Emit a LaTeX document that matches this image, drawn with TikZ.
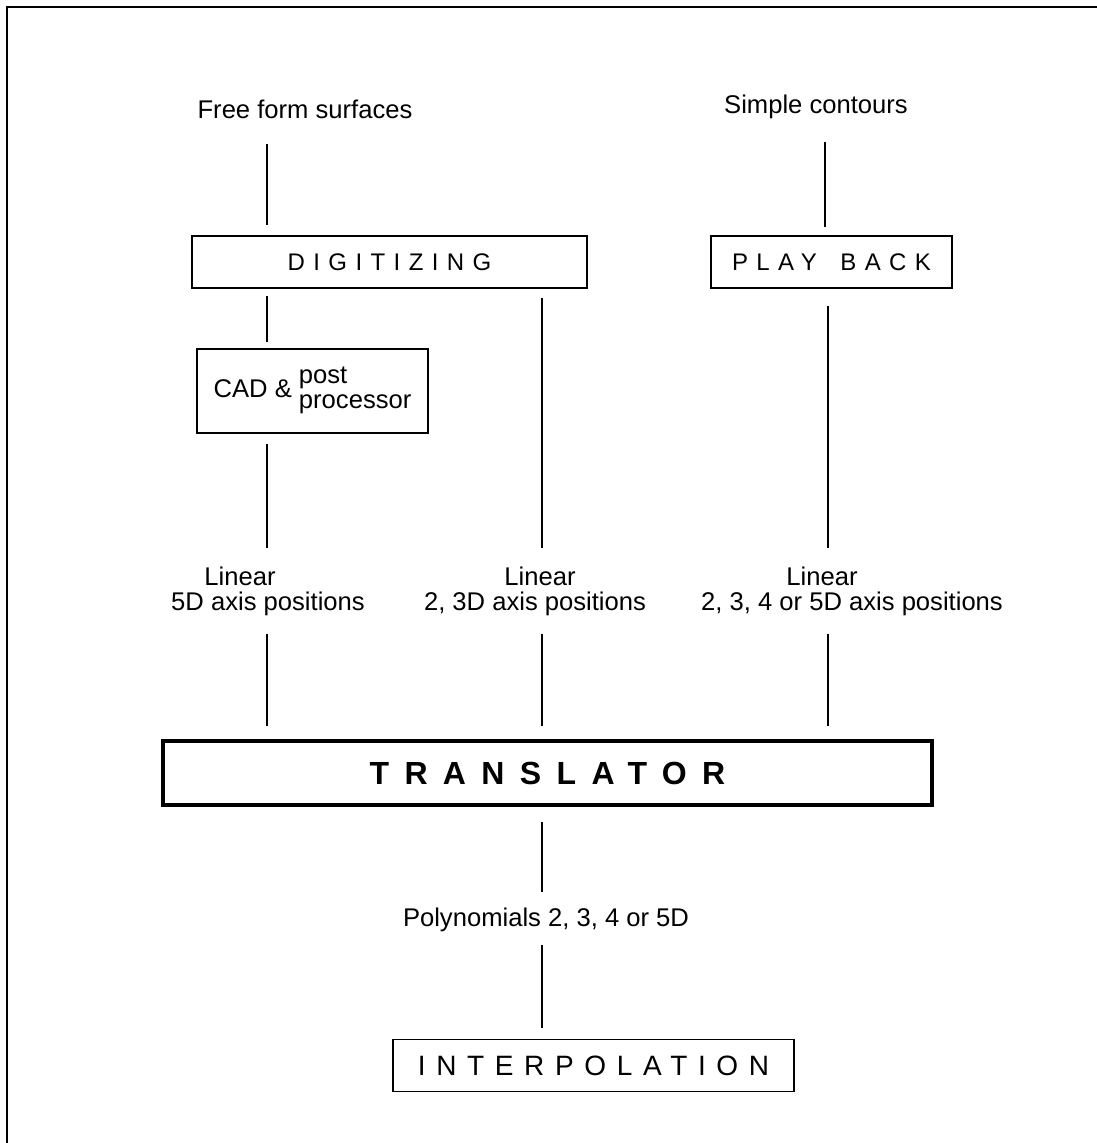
\documentclass[tikz,border=0pt]{standalone}
\usepackage{fontspec}
\setmainfont{Liberation Sans}
\usetikzlibrary{positioning}

\begin{document}
\begin{tikzpicture}[
  x=1pt, y=-1pt,
  font=\fontsize{25.6}{25}\selectfont,
  lbl/.style={inner sep=0pt, anchor=base},
  box/.style={draw, line width=1.5pt, minimum height=52pt, inner sep=0pt,
              font=\fontsize{24}{24}\selectfont\addfontfeatures{LetterSpace=35}},
  bigbox/.style={draw, line width=4pt, minimum height=64pt, inner sep=0pt,
              font=\fontsize{32}{32}\selectfont\bfseries\addfontfeatures{LetterSpace=48}},
  conn/.style={line width=1.4pt}
]
\useasboundingbox (0,0) rectangle (1097,1143);
\draw[line width=2pt] (7,1143) -- (7,7) -- (1097,7);

% columns
\coordinate (c1) at (267,0);
\coordinate (c2) at (542,0);
\coordinate (c3) at (828,0);
\coordinate (c4) at (825,0);

% sources
\node[lbl] (free) at (305,118) {Free form surfaces};
\node[lbl] (simple) at (816,113) {Simple contours};

\node[box, minimum width=395pt] (dig) at (389.5,262) {DIGITIZING\hspace{12pt}};
\node[box, minimum width=241pt] (play) at (831.5,262) {PLAY\hspace{0.35em} BACK\hspace{12pt}};

\node[draw, line width=1.5pt, minimum width=231pt, minimum height=84pt, inner sep=0pt]
  (cad) at (312.5,391) {CAD \& \begin{tabular}[c]{@{}l@{}}post\\processor\end{tabular}};

% axis positions
\node[lbl] (lin1) at (240,585) {Linear};
\node[lbl] (pos1) at ([yshift=-25pt]lin1.base -| 268,0) {5D axis positions};
\node[lbl] (lin2) at (540,585) {Linear};
\node[lbl] (pos2) at ([yshift=-25pt]lin2.base -| 535,0) {2, 3D axis positions};
\node[lbl] (lin3) at (822,585) {Linear};
\node[lbl] (pos3) at ([yshift=-25pt]lin3.base -| 852,0) {2, 3, 4 or 5D axis positions};

\node[bigbox, minimum width=769pt] (trans) at (547.5,773) {TRANSLATOR};
\node[lbl] (poly) at (546,926) {Polynomials 2, 3, 4 or 5D};
\node[box, minimum width=401pt, font=\fontsize{28}{28}\selectfont\addfontfeatures{LetterSpace=38}]
  (interp) at (593.5,1065.5) {INTERPOLATION\hspace{20pt}};

% connectors
\draw[conn, shorten <=26pt, shorten >=10pt] (c1 |- free.base) -- (c1 |- dig.north);
\draw[conn, shorten <=29pt, shorten >=8pt] (c4 |- simple.base) -- (c4 |- play.north);
\draw[conn, shorten <=7pt, shorten >=6pt] (c1 |- dig.south) -- (c1 |- cad.north);
\draw[conn, shorten <=10pt, shorten >=18pt] (c1 |- cad.south) -- (c1 |- lin1.north);
\draw[conn, shorten <=9pt, shorten >=18pt] (c2 |- dig.south) -- (c2 |- lin2.north);
\draw[conn, shorten <=17pt, shorten >=18pt] (c3 |- play.south) -- (c3 |- lin3.north);
\foreach \i in {1,2,3}
  \draw[conn, shorten <=18pt, shorten >=13pt] (c\i |- pos\i.south) -- (c\i |- trans.north);
\draw[conn, shorten <=15pt, shorten >=15pt] (c2 |- trans.south) -- (c2 |- poly.north);
\draw[conn, shorten <=13pt, shorten >=11pt] (c2 |- poly.south) -- (c2 |- interp.north);
\end{tikzpicture}
\end{document}
